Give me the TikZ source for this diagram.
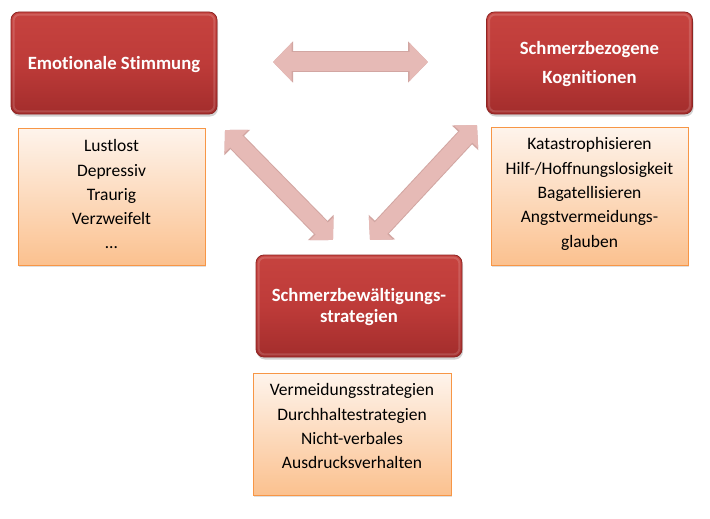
\documentclass[tikz,border=0pt]{standalone}
\usepackage{fontspec}
\setmainfont[Ligatures=NoCommon]{Carlito}
\usetikzlibrary{arrows.meta,shadows}
\definecolor{redtop}{HTML}{C6433F}
\definecolor{redmid}{HTML}{BE3B39}
\definecolor{redbot}{HTML}{A32D2C}
\definecolor{redborder}{HTML}{8E2624}
\definecolor{listtop}{HTML}{FEF4EC}
\definecolor{listbot}{HTML}{FBC18F}
\definecolor{listborder}{HTML}{F79646}
\definecolor{arrowpink}{HTML}{E6BAB6}
\definecolor{arrowedge}{HTML}{D2A6A2}
\tikzset{
  redbox/.style={rounded corners=8pt, minimum width=206pt, minimum height=102pt,
    draw=redborder, line width=0.8pt, top color=redtop, bottom color=redbot,
    middle color=redmid, inner sep=0pt,
    drop shadow={shadow xshift=1pt, shadow yshift=-2.5pt, opacity=0.35}},
  redtext/.style={text=white, font=\bfseries\fontsize{18.7}{21}\selectfont,
    align=center, inner sep=0pt},
  listbox/.style={draw=listborder, line width=0.9pt, top color=listtop,
    bottom color=listbot, inner sep=0pt,
    drop shadow={shadow xshift=1pt, shadow yshift=-2pt, opacity=0.25}},
  listtext/.style={text=black, font=\fontsize{17.5}{24.3}\selectfont,
    align=center, inner sep=0pt},
  fatedge/.style={line width=#1+2pt, color=arrowedge},
  fatfill/.style={line width=#1, color=arrowpink},
}
\begin{document}
\begin{tikzpicture}[x=1pt,y=-1pt]
\useasboundingbox (0,0) rectangle (710,519);
\fill[white] (0,0) rectangle (710,519);

% red boxes
\node[redbox] (emo) at (114,63) {};
\node[redbox] (kog) at (589.5,63) {};
\node[redbox] (bew) at (359,306) {};
\foreach \n in {emo,kog,bew}{
  \draw[white, opacity=0.15, line width=2pt, rounded corners=6pt]
    ([shift={(3pt,-3pt)}]\n.north west) rectangle ([shift={(-3pt,3pt)}]\n.south east);
}
\node[redtext, anchor=base] (emot) at (114,70) {Emotionale Stimmung};
\node[redtext] (kogt) at (589.5,63.9) {Schmerzbezogene\\[8pt]Kognitionen};
\node[redtext] (bewt) at (359,307.3) {Schmerzbewältigungs-\\strategien};

% list boxes
\node[listbox, minimum width=187pt, minimum height=137pt] (emol) at (111.5,196.5) {};
\node[listbox, minimum width=197pt, minimum height=138pt] (kogl) at (589.5,196) {};
\node[listbox, minimum width=198pt, minimum height=122pt] (bewl) at (352,434) {};

\node[listtext] (emolt) at (111.5,194.3) {Lustlost\\Depressiv\\Traurig\\Verzweifelt\\\dots};
\node[listtext] (koglt) at (589.5,194) {Katastrophisieren\\Hilf-/Hoffnungslosigkeit\\Bagatellisieren\\Angstvermeidungs-\\glauben};
\node[listtext] (bewlt) at (352,426.4) {Vermeidungsstrategien\\Durchhaltestrategien\\Nicht-verbales\\Ausdrucksverhalten};

% arrows
\coordinate (a1) at (273,62);
\coordinate (a2) at (428,62);
\coordinate (b1) at (225,130);
\coordinate (b2) at (333,240);
\coordinate (c1) at (370,240);
\coordinate (c2) at (477,125);

\draw[fatedge=19pt, {Triangle[length=20pt,width=40pt]}-{Triangle[length=20pt,width=40pt]}] (a1) -- (a2);
\draw[fatfill=19pt, {Triangle[length=18.5pt,width=37pt]}-{Triangle[length=18.5pt,width=37pt]}] (a1) -- (a2);
\draw[fatedge=17pt, {Triangle[length=17.5pt,width=35pt]}-{Triangle[length=17.5pt,width=35pt]}] (b1) -- (b2);
\draw[fatfill=17pt, {Triangle[length=16pt,width=32pt]}-{Triangle[length=16pt,width=32pt]}] (b1) -- (b2);
\draw[fatedge=17pt, {Triangle[length=17.5pt,width=35pt]}-{Triangle[length=17.5pt,width=35pt]}] (c1) -- (c2);
\draw[fatfill=17pt, {Triangle[length=16pt,width=32pt]}-{Triangle[length=16pt,width=32pt]}] (c1) -- (c2);
\end{tikzpicture}
\end{document}
